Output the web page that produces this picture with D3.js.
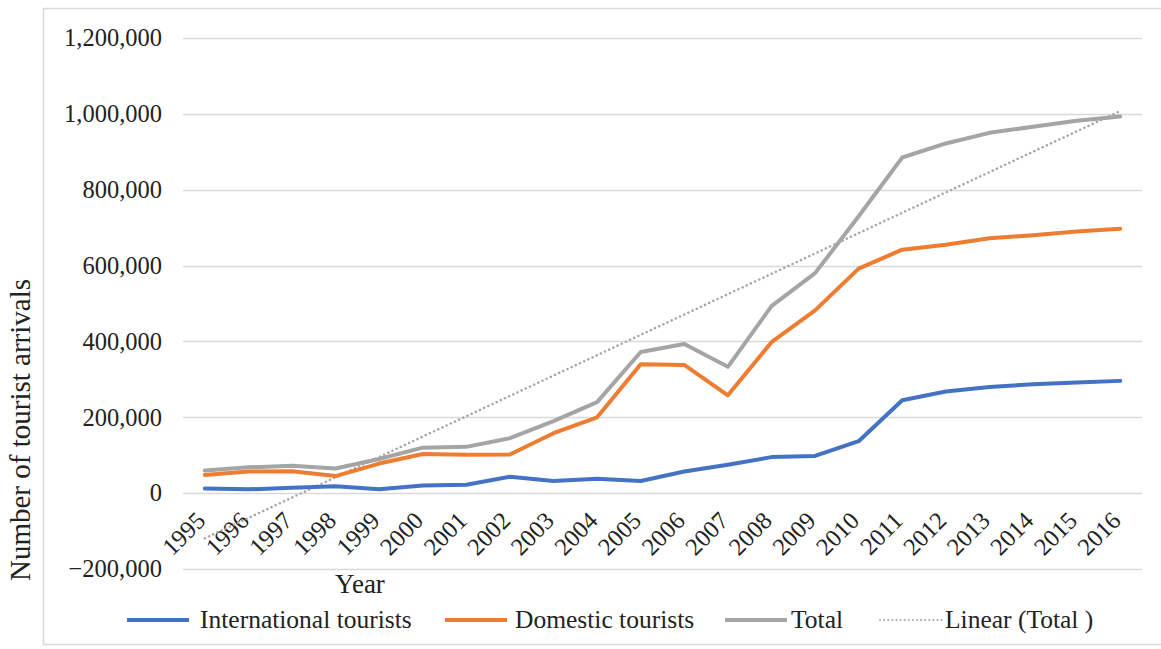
<!DOCTYPE html>
<html>
<head>
<meta charset="utf-8">
<script src="https://cdn.jsdelivr.net/npm/d3@7"></script>
<style>
  body { margin: 0; background: #fff; }
  svg { display: block; font-family: "Liberation Serif", "Times New Roman", serif; }
</style>
</head>
<body>
<script>
const years = ["1995", "1996", "1997", "1998", "1999", "2000", "2001", "2002", "2003", "2004", "2005",
  "2006", "2007", "2008", "2009", "2010", "2011", "2012", "2013", "2014", "2015", "2016"];

const international = [12000, 10000, 14000, 18000, 10000, 20000, 22000, 43000, 32000, 38000, 32000,
  57000, 75000, 95000, 98000, 137000, 245000, 268000, 280000, 287000, 292000, 296000];

const domestic = [48000, 57000, 58000, 45000, 78000, 103000, 101000, 102000, 158000, 200000, 340000,
  338000, 258000, 398000, 482000, 592000, 642000, 655000, 672000, 680000, 690000, 697000];

const total = [60000, 68000, 72000, 65000, 90000, 120000, 122000, 145000, 190000, 240000, 372000,
  393000, 333000, 493000, 580000, 730000, 885000, 922000, 950000, 966000, 982000, 993000];

const yTicks = [-200000, 0, 200000, 400000, 600000, 800000, 1000000, 1200000];

const W = 1161;
const H = 649;
const Lpad = 183;
const Rpad = 19;
const Tpad = 38;
const Bpad = 80;

const svg = d3.select("body")
  .append("svg")
  .attr("width", W)
  .attr("height", H);

// chart frame
svg.append("rect")
  .attr("x", 43.5)
  .attr("y", 8.5)
  .attr("width", 1140)
  .attr("height", 636)
  .attr("fill", "none")
  .attr("stroke", "#d9d9d9")
  .attr("stroke-width", 1.5);

const xScale = d3.scaleBand()
  .domain(years)
  .range([Lpad, W - Rpad]);

const cx = (d) => xScale(d) + xScale.bandwidth() / 2;

const yScale = d3.scaleLinear()
  .domain([-200000, 1200000])
  .range([H - Bpad, Tpad]);

// gridlines
svg.append("g")
  .selectAll("line")
  .data(yTicks)
  .enter()
  .append("line")
  .attr("x1", Lpad)
  .attr("x2", W - Rpad)
  .attr("y1", (d) => Math.round(yScale(d)) + 0.5)
  .attr("y2", (d) => Math.round(yScale(d)) + 0.5)
  .attr("stroke", "#d9d9d9")
  .attr("stroke-width", 1.5);

// y axis labels
const yAxis = d3.axisLeft(yScale)
  .tickValues(yTicks)
  .tickSize(0)
  .tickPadding(21)
  .tickFormat(d3.format(","));

svg.append("g")
  .attr("transform", `translate(${Lpad},0)`)
  .call(yAxis)
  .attr("font-family", null)
  .call(g => g.select(".domain").remove())
  .selectAll("text")
  .attr("font-size", 24.5)
  .attr("fill", "#222");

// x category labels, hanging from the zero line
svg.append("g")
  .selectAll("text")
  .data(years)
  .enter()
  .append("text")
  .attr("transform", (d) => `translate(${cx(d) + 2},${yScale(0) + 29}) rotate(-45)`)
  .attr("text-anchor", "end")
  .attr("font-size", 24.5)
  .attr("fill", "#222")
  .text((d) => d);

// linear trendline of the total, least squares like the spreadsheet
const n = total.length;
const xm = d3.mean(total, (d, i) => i);
const ym = d3.mean(total);
const slope = d3.sum(total, (d, i) => (i - xm) * (d - ym)) / d3.sum(total, (d, i) => (i - xm) * (i - xm));
const icpt = ym - slope * xm;

svg.append("line")
  .attr("x1", cx(years[0]))
  .attr("y1", yScale(icpt))
  .attr("x2", cx(years[n - 1]))
  .attr("y2", yScale(icpt + slope * (n - 1)))
  .attr("stroke", "#a5a5a5")
  .attr("stroke-width", 2.5)
  .attr("stroke-linecap", "round")
  .attr("stroke-dasharray", "0.1,4.5");

const line = d3.line()
  .x((d, i) => cx(years[i]))
  .y((d) => yScale(d));

const series = [
  { name: "Total", values: total, color: "#a5a5a5" },
  { name: "Domestic tourists", values: domestic, color: "#ed7d31" },
  { name: "International tourists", values: international, color: "#4472c4" }
];

series.forEach((s) => {
  svg.append("path")
    .datum(s.values)
    .attr("d", line)
    .attr("fill", "none")
    .attr("stroke", s.color)
    .attr("stroke-width", 4)
    .attr("stroke-linejoin", "round")
    .attr("stroke-linecap", "round");
});

// axis titles
svg.append("text")
  .attr("transform", `translate(30,430) rotate(-90)`)
  .attr("text-anchor", "middle")
  .attr("font-size", 29)
  .attr("fill", "#222")
  .text("Number of tourist arrivals");

svg.append("text")
  .attr("x", 360)
  .attr("y", 593)
  .attr("text-anchor", "middle")
  .attr("font-size", 27)
  .attr("fill", "#222")
  .text("Year");

// legend
const legendItems = [
  { name: "International tourists", color: "#4472c4", x: 127, tx: 200, dash: null },
  { name: "Domestic tourists", color: "#ed7d31", x: 445, tx: 515, dash: null },
  { name: "Total", color: "#a5a5a5", x: 725, tx: 791, dash: null },
  { name: "Linear (Total )", color: "#a5a5a5", x: 880, tx: 945, dash: "0.1,4" }
];

const legend = svg.append("g");

legendItems.forEach((it) => {
  legend.append("line")
    .attr("x1", it.x)
    .attr("x2", it.x + 62)
    .attr("y1", 620)
    .attr("y2", 620)
    .attr("stroke", it.color)
    .attr("stroke-width", it.dash ? 2 : 4)
    .attr("stroke-linecap", it.dash ? "round" : "butt")
    .attr("stroke-dasharray", it.dash);
  legend.append("text")
    .attr("x", it.tx)
    .attr("y", 628)
    .attr("font-size", 25.5)
    .attr("fill", "#222")
    .text(it.name);
});
</script>
</body>
</html>
